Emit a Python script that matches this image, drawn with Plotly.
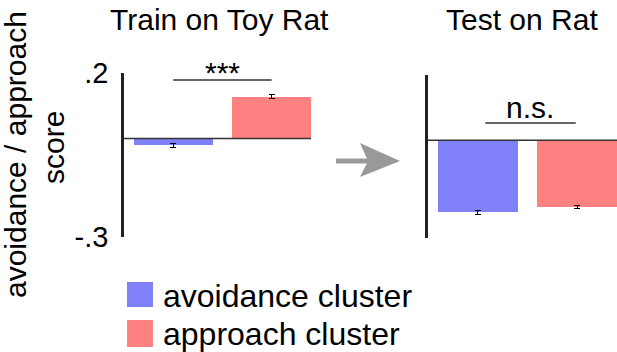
import plotly.graph_objects as go

W, H = 617, 352

# ---- data ----
clusters = ["avoidance cluster", "approach cluster"]
panel_titles = ["Train on Toy Rat", "Test on Rat"]
train_values = [-0.021, 0.128]
train_errors = [0.006, 0.007]
test_values = [-0.221, -0.205]
test_errors = [0.006, 0.006]
sig_labels = ["***", "n.s."]
tick_vals = [-0.3, 0.2]
tick_text = ["-.3", ".2"]
colors = ["#8080f9", "#ff8282"]
y_label_lines = ["avoidance / approach", "score"]

FONT = "Liberation Sans, Arial, sans-serif"


def px(x):
    return x / W


def py(y):
    return 1 - y / H


fig = go.Figure()

for i, name in enumerate(clusters):
    fig.add_trace(go.Bar(
        x=[i], y=[train_values[i]], width=0.8, name=name,
        marker=dict(color=colors[i], line=dict(width=0)),
        error_y=dict(type="data", array=[train_errors[i]], color="black",
                     thickness=1, width=3),
        xaxis="x", yaxis="y", showlegend=False))
    fig.add_trace(go.Bar(
        x=[i], y=[test_values[i]], width=0.8, name=name,
        marker=dict(color=colors[i], line=dict(width=0)),
        error_y=dict(type="data", array=[test_errors[i]], color="black",
                     thickness=1, width=3),
        xaxis="x2", yaxis="y2", showlegend=False))

axis_common = dict(showgrid=False, zeroline=False, automargin=False)
fig.update_layout(
    template="none",
    width=W, height=H,
    margin=dict(l=0, r=0, t=0, b=0, pad=0, autoexpand=False),
    paper_bgcolor="white", plot_bgcolor="white",
    font=dict(family=FONT, color="black"),
    bargap=0,
    showlegend=False,
    xaxis=dict(domain=[px(124), px(311)], range=[-0.5, 1.4], visible=False, **axis_common),
    yaxis=dict(domain=[py(237), py(73)], range=[-0.3, 0.2], anchor="x",
               showline=True, linewidth=2.5, linecolor="#222",
               ticks="inside", ticklen=4, tickwidth=2.5, tickcolor="#222",
               tickvals=tick_vals, ticktext=tick_text,
               tickfont=dict(size=29, family=FONT, color="black"),
               ticklabelstandoff=7, **axis_common),
    xaxis2=dict(domain=[px(428), 1.0], range=[-0.5, 1.4], visible=False, **axis_common),
    yaxis2=dict(domain=[py(238), py(75)], range=[-0.3, 0.2], anchor="x2",
                showline=True, linewidth=2.5, linecolor="#222",
                ticks="inside", ticklen=4, tickwidth=2.5, tickcolor="#222",
                tickvals=tick_vals, showticklabels=False, **axis_common),
)

shapes = []
# zero lines
shapes.append(dict(type="line", xref="x", yref="y", x0=-0.5, x1=1.4, y0=0, y1=0,
                   line=dict(color="#333", width=1.5), layer="above"))
shapes.append(dict(type="line", xref="x2", yref="y2", x0=-0.5, x1=1.4, y0=0, y1=0,
                   line=dict(color="#333", width=1.5), layer="above"))
# significance lines
shapes.append(dict(type="line", xref="x", yref="paper", x0=0.0, x1=1.0,
                   y0=py(80), y1=py(80), line=dict(color="#333", width=1.5)))
shapes.append(dict(type="line", xref="x2", yref="paper", x0=0.076, x1=0.985,
                   y0=py(123), y1=py(123), line=dict(color="#333", width=1.5)))
# arrow
shapes.append(dict(type="rect", xref="paper", yref="paper",
                   x0=px(336), x1=px(368), y0=py(158.5), y1=py(163.5),
                   fillcolor="#999", line=dict(width=0)))
path = "M {} {} L {} {} L {} {} L {} {} Z".format(
    px(400), py(161), px(360), py(143), px(368), py(161), px(360), py(177))
shapes.append(dict(type="path", xref="paper", yref="paper", path=path,
                   fillcolor="#999", line=dict(width=0)))
# legend swatches
shapes.append(dict(type="rect", xref="paper", yref="paper",
                   x0=px(127), x1=px(153), y0=py(307), y1=py(282),
                   fillcolor=colors[0], line=dict(width=0)))
shapes.append(dict(type="rect", xref="paper", yref="paper",
                   x0=px(127), x1=px(153), y0=py(347), y1=py(320),
                   fillcolor=colors[1], line=dict(width=0)))
fig.update_layout(shapes=shapes)

ann = []
# titles
ann.append(dict(text=panel_titles[0], x=px(219), y=py(20), xref="paper", yref="paper",
                showarrow=False, font=dict(size=30), xanchor="center", yanchor="middle"))
ann.append(dict(text=panel_titles[1], x=px(522), y=py(20), xref="paper", yref="paper",
                showarrow=False, font=dict(size=30), xanchor="center", yanchor="middle"))
# significance labels
ann.append(dict(text=sig_labels[0], x=0.5, xref="x", y=py(72), yref="paper",
                showarrow=False, font=dict(size=30), xanchor="center", yanchor="middle"))
ann.append(dict(text=sig_labels[1], x=0.53, xref="x2", y=py(107), yref="paper",
                showarrow=False, font=dict(size=30), xanchor="center", yanchor="middle"))
# y-axis label
ann.append(dict(text=y_label_lines[0], x=px(15), y=py(155), xref="paper", yref="paper",
                showarrow=False, textangle=-90, font=dict(size=30),
                xanchor="center", yanchor="middle"))
ann.append(dict(text=y_label_lines[1], x=px(53), y=py(148), xref="paper", yref="paper",
                showarrow=False, textangle=-90, font=dict(size=30),
                xanchor="center", yanchor="middle"))
# legend texts
ann.append(dict(text=clusters[0], x=px(161), y=py(296), xref="paper", yref="paper",
                showarrow=False, font=dict(size=32), xanchor="left", yanchor="middle"))
ann.append(dict(text=clusters[1], x=px(161), y=py(334), xref="paper", yref="paper",
                showarrow=False, font=dict(size=32), xanchor="left", yanchor="middle"))
fig.update_layout(annotations=ann)

fig.write_html("out.html", config={"displayModeBar": False},
               post_script="document.body.style.margin='0';")
